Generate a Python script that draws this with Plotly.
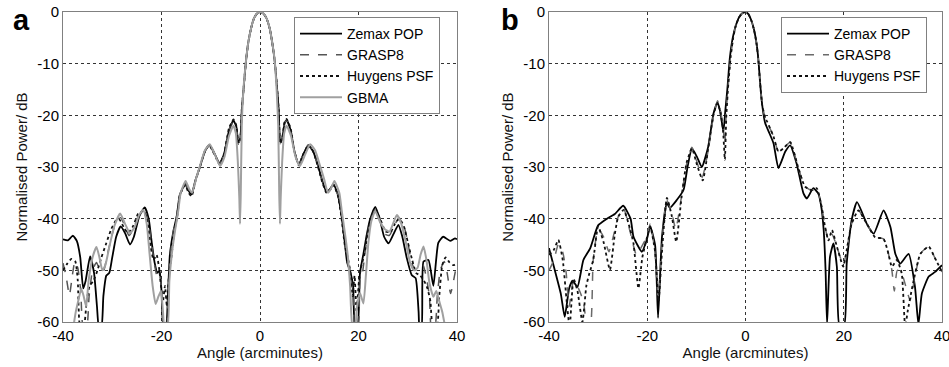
import plotly.graph_objects as go

# ---------------- Panel a ----------------
a_zemax_x = [-40, -39, -38, -37.2, -36.5, -35.9, -35.4, -34.5, -33.7, -33.1, -32.7, -32.2, -31.8, -31.2, -30.6, -30,
             -29.2, -28.3, -27.4, -26.4, -25.6, -24.5, -23.4, -22.6, -22, -21.4, -20.8, -20.4, -20, -19.6, -19.1,
             -18.7, -18.3, -17.6, -16.9, -16.3, -15.2, -14.5, -13.9, -13.1, -12.2, -11.2, -10.3, -9.3, -8.2, -7.3,
             -6.3, -5.4, -4.8, -4.4, -4.0, -3.7, -3.3, -2.9, -2.4, -1.8, -1.2, -0.6, 0.1,
             0.8, 1.4, 2.0, 2.5, 3.0, 3.4, 3.8, 4.1, 4.5, 5.0, 5.4, 6.2, 7.0, 7.9, 8.8, 9.8, 10.8, 11.8, 12.6, 13.5,
             14.2, 14.9, 15.8, 16.5, 17.2, 17.7, 18.4, 18.9, 19.3, 19.8, 20.3, 21, 21.6, 22.3, 23.4, 24.3, 25.2,
             26.1, 27.1, 28.1, 28.9, 29.8, 30.8, 31.6, 32.2, 32.4, 32.8, 33.2, 34.2, 35.2, 36.2, 37.2, 38.6, 39.6, 40]
a_zemax_y = [-44.0, -44.2, -43.3, -44.3, -47.5, -53.5, -52, -47.3, -50.5, -57, -61, -61, -55, -51, -50.5, -47.5,
             -43.5, -41.5, -42.8, -45, -43.5, -39.5, -37.8, -40, -44.5, -48.5, -50.5, -50, -54, -61, -61,
             -55, -47, -42.5, -39.5, -35.5, -33.3, -34.6, -35.3, -32.5, -30, -27, -25.7, -27.3, -29.3, -27.5,
             -23, -21.0, -22.2, -25.3, -24.5, -19, -14.5, -10, -6.0, -3.1, -1.2, -0.3, 0,
             -0.4, -1.4, -3.3, -6.0, -9.6, -14, -19, -25, -24.5, -21.5, -20.9, -22.8, -27, -29.5, -27.5, -25.8,
             -27, -29.8, -32.5, -34.8, -34.3, -33.3, -35.3, -39, -44.5, -48.5, -50.5, -53, -61, -61, -50.5, -46.8,
             -43.5, -40.3, -37.7, -40, -43.5, -44.8, -43, -41.2, -43.5, -47.6, -50.9, -51.5, -58, -61, -61, -48.3,
             -48, -53, -44.7, -43.5, -44.3, -43.8, -44]

a_grasp_x = [-40, -39.4, -38.7, -38.1, -37.6, -37, -36.4, -35.9, -35.2, -34.7, -34, -33.2, -32.5, -31.8, -31, -30,
             -29.2, -28.3, -27.4, -26.6, -25.7, -24.6, -23.5, -22.7, -22, -21.4, -20.8, -20.3, -19.9, -19.5, -19.0,
             -18.6, -18.2, -17.6, -16.9, -16.3, -15.2, -14.5, -13.9, -13.1, -12.2, -11.2, -10.3, -9.3, -8.2, -7.3,
             -6.3, -5.4, -4.8, -4.4, -4.0, -3.7, -3.3, -2.9, -2.4, -1.8, -1.2, -0.6, 0.1,
             0.8, 1.4, 2.0, 2.5, 3.0, 3.4, 3.8, 4.1, 4.5, 5.0, 5.4, 6.2, 7.0, 7.9, 8.8, 9.8, 10.8, 11.8, 12.6, 13.5,
             14.2, 14.9, 15.8, 16.5, 17.2, 17.7, 18.4, 18.9, 19.3, 19.9, 20.3, 20.8, 21.4, 22.2, 23.4, 24.4, 25.4,
             26.3, 27.3, 28.2, 29.1, 29.9, 30.8, 31.6, 32.4, 33.1, 33.8, 34.4, 34.8, 35.5, 36.0, 36.6, 37.4, 38,
             38.7, 39.4, 40]
a_grasp_y = [-48.6, -51, -54.8, -51, -48.3, -49.5, -54, -61, -61, -55, -50, -48.5, -50, -50.2, -47, -43,
             -40.5, -39.8, -41.5, -43.3, -42, -39.3, -38.5, -40.5, -45, -49, -51.5, -51, -56, -61, -61,
             -53, -47, -42.5, -39.3, -35.3, -33.2, -34.6, -35.5, -32.6, -30, -27, -25.6, -27.2, -29.4, -27.4,
             -22.8, -21.2, -22.3, -25.6, -24.4, -19, -14.5, -10, -6.0, -3.1, -1.2, -0.3, 0,
             -0.4, -1.4, -3.3, -6.0, -9.6, -14, -19, -25.5, -24.4, -21.4, -21.0, -22.7, -27, -29.6, -27.4, -25.7,
             -27, -29.9, -32.6, -34.9, -34.4, -33.4, -35.4, -39, -44, -48, -51, -55, -61, -61, -52, -50.5,
             -46, -41, -38.3, -40.3, -43, -43.2, -41.3, -39.8, -41, -44, -48.5, -50, -49, -49, -51.5, -55, -61,
             -61, -55, -50, -48.3, -50.5, -54.5, -51.5, -48.5]

a_huyg_x = [-40, -39.2, -38.3, -37.5, -37, -36.5, -35.8, -35.2, -34.6, -33.8, -33, -32.2, -31.3, -30.2, -29.2,
            -28.5, -27.6, -26.8, -25.8, -24.7, -23.6, -22.8, -22.2, -21.6, -21.0, -20.5, -20.1, -19.7, -19.3,
            -18.9, -18.5, -18.0, -17.4, -16.8, -16.2, -15.2, -14.5, -13.9, -13.1, -12.2, -11.2, -10.3, -9.3,
            -8.2, -7.3, -6.3, -5.4, -4.8, -4.4, -4.0, -3.7, -3.3, -2.9, -2.4, -1.8, -1.2, -0.6, 0.1,
            0.8, 1.4, 2.0, 2.5, 3.0, 3.4, 3.8, 4.1, 4.5, 5.0, 5.4, 6.2, 7.0, 7.9, 8.8, 9.8, 10.8, 11.8, 12.6,
            13.5, 14.2, 14.9, 15.8, 16.5, 17.2, 17.8, 18.3, 18.8, 19.2, 19.6, 20.1, 20.6, 21.2, 21.8, 22.5, 23.5,
            24.5, 25.5, 26.5, 27.4, 28.3, 29.2, 30.0, 30.9, 31.7, 32.5, 33.3, 34, 34.6, 35.1, 35.9, 36.4, 37,
            37.7, 38.5, 39.3, 40]
a_huyg_y = [-50, -48.8, -47.8, -48.3, -52, -61, -61, -56, -53, -52, -50, -47.5, -45, -42, -40.3,
            -40.2, -41.8, -42.8, -41.5, -39, -38.5, -41, -45.5, -48, -47, -49.5, -53, -56, -53,
            -57, -51, -47.5, -42.5, -39.5, -35.3, -33.5, -35, -35.7, -32.7, -30, -27, -25.8, -27.5,
            -29.5, -27.5, -22.5, -20.8, -22, -25.5, -24.5, -19, -14.5, -10, -6.0, -3.1, -1.2, -0.3, 0,
            -0.4, -1.4, -3.3, -6.0, -9.6, -14, -19, -25.5, -24.5, -21.3, -20.7, -22.5, -27, -29.7, -27.5, -25.8,
            -27, -30, -32.8, -35, -34.5, -33.5, -35.5, -39.5, -45, -47.5, -50, -55, -51, -58, -52, -49, -47, -43,
            -40, -38.3, -40.3, -42.5, -42.6, -41, -40, -41.5, -44.5, -48, -50.5, -51, -52, -53.5, -56, -61, -61,
            -55, -49, -47.5, -48.5, -49, -48.5]

a_gbma_x = [-37.9, -37.4, -36.8, -36.3, -35.8, -35.3, -34.8, -34.0, -33.2, -32.6, -32.0, -31.4, -30.6, -29.6,
            -28.4, -27.4, -26.4, -25.4, -24.5, -23.7, -23.0, -22.4, -21.8, -21.2, -20.6, -20.1, -19.7, -19.4,
            -18.8, -18.4, -17.8, -17.2, -16.6, -16.1, -15.1, -14.4, -13.8, -13.0, -12.2, -11.2, -10.2, -9.2,
            -8.1, -7.2, -6.3, -5.4, -4.9, -4.5, -4.2, -4.05, -3.9, -3.7, -3.4, -2.9, -2.4, -1.8, -1.2, -0.6, 0.1,
            0.8, 1.4, 2.0, 2.5, 3.0, 3.4, 3.7, 3.9, 4.05, 4.2, 4.5, 4.9, 5.4, 6.3, 7.2, 8.1, 9.2, 10.2, 11.2,
            12.2, 13.0, 13.8, 14.4, 15.1, 16.1, 16.6, 17.2, 17.8, 18.3, 18.8, 19.3, 19.7, 20.3, 21.0, 21.5, 22.0,
            22.6, 23.4, 24.3, 25.3, 26.3, 27.0, 27.8, 28.7, 29.6, 30.5, 31.3, 32.0, 32.6, 33.2, 33.8, 34.4, 35.2,
            35.8, 36.4, 37.0, 37.6]
a_gbma_y = [-61, -58, -55.5, -53.5, -55, -57, -52, -47.5, -45.5, -47.5, -50, -49, -45.5, -41.5,
            -39, -41, -42.8, -41.5, -39.2, -38.3, -41, -47, -53, -56.5, -55, -54, -58, -61,
            -61, -52, -46, -42, -38.5, -35, -32.7, -34.2, -35, -32.3, -29.8, -26.8, -25.6, -27.5,
            -29.8, -28, -24, -22, -23.5, -29, -36, -41, -35, -22, -15.5, -10, -6.0, -3.1, -1.2, -0.3, 0,
            -0.4, -1.4, -3.3, -6.0, -9.6, -15.5, -22, -35, -41, -36, -29, -23.5, -22, -24, -28, -29.8, -27.5, -25.6,
            -26.8, -29.8, -32.3, -35, -34.2, -32.7, -35, -38.5, -42.5, -47, -53, -61, -61, -57, -54.4, -56.4,
            -51, -44.7, -40.5, -38.5, -40.5, -42, -42.5, -41, -39.3, -41, -44.5, -48.6, -50, -49.5, -47, -45.4,
            -48, -52.4, -55.1, -54, -56, -58, -61]

# ---------------- Panel b ----------------
b_zemax_x = [-40, -39, -37.6, -36.8, -35.9, -35.2, -34.2, -33.0, -31.6, -30.0, -28.2, -26.6, -24.9, -23.4, -22.8,
             -21.1, -20.1, -19.4, -18.4, -17.8, -17.0, -16.0, -15.4, -14.0, -12.6, -11.8, -10.9, -9.9, -8.9,
             -7.6, -6.5, -5.7, -5.1, -4.5, -4.1, -3.7, -3.2, -2.6, -2.0, -1.3, -0.6, -0.1,
             0.5, 1.1, 1.7, 2.2, 2.6, 3.0, 3.4, 4.0, 4.7, 5.7, 6.7, 8.1, 9.1, 10.4, 11.8, 12.5, 13.8, 14.8, 15.4,
             15.9, 16.3, 16.6, 17.2, 17.9, 18.6, 19.1, 20.1, 20.6, 21.6, 22.7, 24.7, 26.1, 28.1, 29.5, 30.5, 31.5,
             33.2, 34.5, 35.2, 35.9, 37.3, 38.6, 40]
b_zemax_y = [-45.7, -49.3, -54.5, -59, -53.5, -52, -53.2, -48, -45.7, -41.3, -40, -39.1, -37.5, -40, -43.5,
             -46.4, -44.1, -41.5, -45.1, -59.2, -43.5, -37, -37.9, -36.4, -34.4, -30, -26.4, -28, -30,
             -26.1, -19.6, -17.5, -19.5, -23.2, -19, -15, -9, -5, -2.7, -1.0, -0.2, 0,
             -0.3, -1.4, -3.3, -5.8, -9, -14, -18, -21.5, -23.1, -25.4, -30.2, -27, -25.8, -29.3, -35.1, -36.1,
             -34.1, -35.1, -37.5, -42, -50, -60.5, -47.4, -44.8, -49.3, -60.5, -60.5, -48.7, -40.3, -36.8, -41,
             -42.9, -38.4, -41.6, -46.8, -48.7, -46.8, -53.2, -60.5, -54.5, -51.2, -50.3, -49]

b_grasp_x = [-40, -39, -38.1, -37.2, -36.5, -35.9, -35.0, -34.0, -33.0, -32.2, -31.6, -31.0, -30.0, -28.9, -27.8,
             -26.8, -25.9, -24.8, -23.5, -22.2, -21.2, -20.1, -19.4, -18.5, -17.8, -17.0, -16.1, -15.1, -14.2,
             -13.0, -12.0, -10.9, -9.9, -8.8, -7.6, -6.5, -5.7, -5.1, -4.5, -4.2, -3.9, -3.5, -3.0, -2.5, -2.0,
             -1.3, -0.6, -0.1, 0.5, 1.1, 1.7, 2.2, 2.6, 3.0, 3.4, 4.0, 4.5, 5.7, 6.7, 7.7, 9.1, 10.7, 12.1, 13.5,
             14.5, 15.5, 16.2, 16.9, 17.6, 18.6, 19.9, 20.6, 21.6, 23.0, 24.7, 26.4, 28.1, 29.1, 29.8, 30.3, 30.9,
             31.8, 32.6, 33.5, 34.5, 35.6, 37.3, 38.6, 40]
b_grasp_y = [-50, -48, -45, -46.5, -50.5, -57, -52, -53.5, -56, -61, -61, -48, -42, -43.5, -46.4,
             -43, -39.6, -38, -42.5, -47, -45.5, -43.5, -41, -46, -55, -45, -36.3, -38.5, -42,
             -35.5, -29.5, -26.2, -29, -32, -26.8, -20, -17.2, -19, -23, -25.5, -19, -14, -8.5, -5, -2.7,
             -1.0, -0.2, 0, -0.3, -1.4, -3.3, -5.8, -9, -14, -18, -20.5, -21.5, -24.1, -27, -26.4, -25.2, -30,
             -33.8, -34.5, -34.1, -37.7, -41.6, -44.2, -43, -45.4, -49, -46.1, -41, -38.4, -41, -43.6, -43.9,
             -46.8, -50, -54, -50, -50.6, -53, -55.8, -51.2, -46.8, -45.4, -47.7, -50.3]

b_huyg_x = [-40, -39, -38.1, -37.2, -36.4, -35.8, -35.0, -34.2, -33.2, -32.4, -31.9, -31.0, -30.0, -28.9, -27.6,
            -26.6, -25.9, -24.8, -23.5, -22.8, -21.8, -21.0, -20.1, -19.4, -18.4, -17.7, -17.0, -16.0, -15.0,
            -14.1, -13.0, -12.0, -10.9, -9.9, -8.7, -7.6, -6.5, -5.7, -5.1, -4.6, -4.2, -3.9, -3.5, -3.0, -2.5,
            -2.0, -1.3, -0.6, -0.1, 0.5, 1.1, 1.7, 2.2, 2.6, 3.0, 3.4, 4.0, 4.4, 5.7, 6.7, 7.7, 9.1, 10.7, 12.1,
            13.5, 14.5, 15.5, 16.2, 16.9, 17.6, 18.6, 19.9, 20.6, 21.6, 23.0, 24.7, 26.4, 28.1, 29.1, 29.8, 30.8,
            31.8, 32.5, 33.0, 34.0, 35.6, 37.3, 38.6, 40]
b_huyg_y = [-47, -46, -44.1, -48, -56, -61, -51.6, -54, -60, -53, -51, -48, -41.5, -44.5, -49.9,
            -43, -39.6, -38.3, -42, -44.8, -53.5, -47.5, -43.8, -41.5, -46.4, -56, -46.4, -36, -39.5,
            -44.5, -35.7, -29.2, -26.4, -29.5, -32.6, -26.5, -19.8, -17.6, -19.5, -22.5, -28.6, -20, -14, -8.5,
            -5, -2.7, -1.0, -0.2, 0, -0.3, -1.4, -3.3, -5.8, -9, -14, -18, -20.5, -21.2, -24.1, -27, -26.4, -25.2,
            -30, -33.8, -34.5, -34.1, -37.7, -41.6, -44.2, -42.2, -45.4, -49.3, -46.1, -41, -38.4, -41, -43.6,
            -43.9, -46.8, -49.3, -48, -50.6, -61, -58, -53, -46.8, -45.4, -47.7, -50.3]

FONT = "Liberation Sans, Arial, sans-serif"

fig = go.Figure()

def add(x, y, name, color, dash, width, xa, ya, legend):
    fig.add_trace(go.Scatter(x=x, y=y, mode="lines", name=name, xaxis=xa, yaxis=ya, legend=legend,
                             line=dict(color=color, dash=dash, width=width, shape="spline", smoothing=0.5)))

add(a_zemax_x, a_zemax_y, "Zemax POP", "#000000", "solid", 1.8, "x", "y", "legend")
add(a_grasp_x, a_grasp_y, "GRASP8", "#555555", "dash", 1.5, "x", "y", "legend")
add(a_huyg_x, a_huyg_y, "Huygens PSF", "#111111", "dot", 1.8, "x", "y", "legend")
add(a_gbma_x, a_gbma_y, "GBMA", "#a0a0a0", "solid", 2.0, "x", "y", "legend")

add(b_zemax_x, b_zemax_y, "Zemax POP", "#000000", "solid", 1.8, "x2", "y2", "legend2")
add(b_grasp_x, b_grasp_y, "GRASP8", "#6a6a6a", "dash", 1.5, "x2", "y2", "legend2")
add(b_huyg_x, b_huyg_y, "Huygens PSF", "#111111", "dot", 1.8, "x2", "y2", "legend2")

xt = [-40, -20, 0, 20, 40]
yt = [0, -10, -20, -30, -40, -50, -60]

W, H = 949, 367
ydom = [1 - 322 / H, 1 - 12 / H]

def xaxis(dom, anchor):
    return dict(domain=dom, anchor=anchor, range=[-40, 40], tickvals=xt, ticktext=[str(v) for v in xt],
                automargin=False, ticklabeloverflow="allow",
                showgrid=True, gridcolor="#333333", griddash="dot", gridwidth=1,
                showline=True, linecolor="#808080", linewidth=1, mirror=True, zeroline=False, ticks="",
                tickfont=dict(family=FONT, size=15, color="#000"),
                title=dict(text="Angle (arcminutes)", font=dict(family=FONT, size=15, color="#111"), standoff=4))

def yaxis(anchor):
    return dict(domain=ydom, anchor=anchor, range=[-60, 0], tickvals=yt, ticktext=[str(v) for v in yt],
                automargin=False, ticklabeloverflow="allow",
                showgrid=True, gridcolor="#333333", griddash="dot", gridwidth=1,
                showline=True, linecolor="#808080", linewidth=1, mirror=True, zeroline=False, ticks="",
                tickfont=dict(family=FONT, size=15, color="#000"),
                title=dict(text="Normalised Power/ dB", font=dict(family=FONT, size=15, color="#111"), standoff=6))

leg = dict(xanchor="left", yanchor="top", bordercolor="#808080", borderwidth=1, bgcolor="white",
           font=dict(family=FONT, size=14, color="#000"), tracegroupgap=0, itemwidth=42)

fig.update_layout(
    width=W, height=H, margin=dict(l=0, r=0, t=0, b=0, autoexpand=False),
    paper_bgcolor="white", plot_bgcolor="white",
    font=dict(family=FONT),
    xaxis=xaxis([63 / W, 457 / W], "y"),
    yaxis=yaxis("x"),
    xaxis2=xaxis([549 / W, 942 / W], "y2"),
    yaxis2=yaxis("x2"),
    legend=dict(leg, x=294 / W, y=1 - 17 / H),
    legend2=dict(leg, x=781 / W, y=1 - 17 / H),
    showlegend=True,
    annotations=[
        dict(text="<b>a</b>", x=11 / W, y=1 - 2 / H, xref="paper", yref="paper", xanchor="left", yanchor="top",
             showarrow=False, font=dict(family=FONT, size=29, color="#000")),
        dict(text="<b>b</b>", x=499 / W, y=1 - 2 / H, xref="paper", yref="paper", xanchor="left", yanchor="top",
             showarrow=False, font=dict(family=FONT, size=29, color="#000")),
    ],
)

fig.write_html("out.html")
